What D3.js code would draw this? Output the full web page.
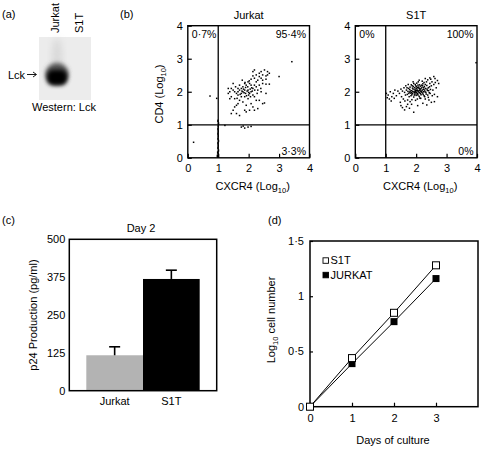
<!DOCTYPE html>
<html><head><meta charset="utf-8">
<script src="https://cdn.jsdelivr.net/npm/d3@7"></script>
<style>
body{margin:0;background:#fff}
text{font-family:"Liberation Sans",Arial,Helvetica,sans-serif;fill:#000}
</style>
</head><body>
<svg id="chart" width="483" height="452"></svg>
<script>
// ---------------- DATA ----------------
// (a) Western blot
const lanes = ["Jurkat", "S1T"];
const lckSignal = [1, 0];

// (b) flow cytometry, values in log10 units [CXCR4, CD4]
const flowTicks = [0, 1, 2, 3, 4];
const jurkatQuadrants = ["0·7%", "95·4%", "3·3%"];
const s1tQuadrants = ["0%", "100%", "0%"];
const jurkatEvents = [
 [2.52,2.66],[2.68,2.56],[2.62,2.51],[2.57,2.48],[2.46,2.51],[2.35,2.46],[2.41,2.41],[2.25,2.51],[2.14,2.48],[2.19,2.41],
 [2.30,2.35],[2.08,2.38],[1.98,2.30],[2.03,2.25],[1.92,2.20],[1.87,2.25],[1.81,2.15],[1.76,2.10],[1.70,2.05],[1.65,2.00],
 [1.60,1.95],[1.54,2.00],[1.49,2.05],[1.38,2.00],[1.33,1.95],[1.43,1.85],[1.54,1.79],[1.65,1.90],[1.76,1.95],[1.81,2.00],
 [1.87,2.05],[1.98,2.05],[2.08,2.00],[2.14,2.10],[2.25,2.15],[2.35,2.20],[2.46,2.25],[2.57,2.23],[2.68,2.23],[3.00,2.46],
 [1.76,1.85],[1.87,1.85],[1.98,1.79],[2.03,1.95],[2.14,1.90],[2.19,1.85],[2.25,1.74],[2.35,1.74],[2.46,1.64],[2.52,1.66],
 [2.08,1.64],[2.14,1.54],[2.03,1.44],[1.92,1.39],[1.87,1.44],[1.65,1.64],[1.60,1.59],[1.54,1.54],[1.49,1.44],[1.43,1.34],
 [1.60,1.34],[1.70,1.28],[1.38,1.79],[1.70,1.74],[1.81,1.69],[1.92,1.59],[2.19,1.44],[2.30,1.49],[2.57,1.95],[2.41,2.00],
 [2.30,2.05],[2.19,2.20],[2.08,2.20],[1.90,2.13],[1.79,2.35],[1.70,2.20],[2.35,2.56],[2.41,2.61],[2.62,2.61],[2.14,2.61],
 [2.19,2.66],[2.25,2.30],[2.46,2.35],[2.57,2.38],[1.65,2.10],[1.57,2.15],[1.49,2.25],[1.43,2.10],[1.33,2.10],
 [1.95,2.02],[2.00,1.98],[1.90,1.95],[2.05,2.08],[1.85,1.97],[2.10,2.12],[1.97,2.15],[1.83,2.08],[2.00,1.90],[2.12,2.02],
 [1.78,2.02],[1.93,1.88],[2.06,1.85],[2.20,2.05],[1.88,2.28],[2.02,2.33],[1.72,1.92],[1.62,1.80],[2.28,1.95],[2.40,2.10],
 [1.82,0.96],[1.76,0.93],[1.87,0.90],[1.98,0.93],[2.08,0.95],[1.22,0.98],
 [3.42,2.91],[0.73,1.87],[0.19,0.47],[0.95,1.80]
];
const jurkatAxisEvents = [
 [0.99,0.03],[1.00,0.10],[0.98,0.16],[1.01,0.22],[0.99,0.30],[1.00,0.37],[0.99,0.44],[1.01,0.51],[0.99,0.58],[1.00,0.66],
 [0.99,0.73],[1.00,0.80],[0.99,0.87],[1.00,0.95],[1.01,1.04],[0.99,1.12],[0.97,0.06],[0.98,0.02]
];
const s1tEvents = [
 [1.62,1.98],[1.68,2.05],[1.71,1.92],[1.75,2.10],[1.78,1.99],[1.80,2.14],[1.83,1.88],[1.85,2.03],[1.87,2.18],[1.88,1.95],
 [1.90,2.08],[1.92,1.84],[1.93,2.00],[1.95,2.12],[1.96,1.93],[1.97,2.22],[1.98,2.04],[2.00,1.89],[2.01,2.15],[2.02,1.98],
 [2.03,2.08],[2.05,1.94],[2.06,2.20],[2.07,2.02],[2.09,2.11],[2.10,1.86],[2.11,1.97],[2.13,2.06],[2.14,2.17],[2.16,1.91],
 [2.17,2.01],[2.19,2.13],[2.21,1.96],[2.22,2.24],[2.24,2.07],[2.26,1.88],[2.27,2.16],[2.29,2.00],[2.31,2.10],[2.33,1.93],
 [2.35,2.19],[2.37,2.04],[2.40,2.12],[2.43,1.97],[2.45,2.25],
 [1.65,1.90],[1.70,2.12],[1.73,2.01],[1.77,1.85],[1.79,2.07],[1.82,1.96],[1.84,2.21],[1.86,1.91],[1.89,2.01],[1.91,2.16],
 [1.94,1.97],[1.96,2.06],[1.99,1.97],[2.00,2.10],[2.02,2.26],[2.04,2.03],[2.06,1.90],[2.08,2.14],[2.09,1.99],[2.12,2.09],
 [2.12,1.81],[2.15,2.02],[2.18,2.20],[2.20,2.05],[2.23,1.92],[2.25,2.12],[2.28,2.05],[2.30,2.22],[2.32,1.98],[2.36,2.08],
 [2.38,1.90],[2.41,2.03],[2.44,2.15],[2.47,2.07],[2.50,2.18],
 [1.88,2.11],[1.92,2.25],[1.94,1.90],[1.97,2.01],[2.01,2.03],[2.03,1.93],[2.05,2.13],[2.07,2.30],[2.10,2.04],[2.14,1.95],
 [2.16,2.10],[2.18,1.99],[2.21,2.18],[2.24,2.00],[1.81,2.02],[1.76,1.95],[1.85,1.97],[1.99,2.18],[2.11,2.21],[2.26,2.28],
 [1.45,1.95],[1.50,2.08],[1.52,1.85],[1.55,2.02],[1.58,1.78],[1.60,2.12],[1.63,1.72],[1.66,2.18],[1.72,1.75],[1.74,2.22],
 [1.80,1.70],[1.86,1.76],[1.90,2.30],[1.98,1.74],[2.04,1.78],[2.10,2.35],[2.15,1.80],[2.20,2.32],[2.28,1.85],[2.34,2.30],
 [2.40,1.83],[2.46,1.95],[2.52,2.30],[2.55,2.05],[2.58,2.22],[2.60,1.92],[2.63,2.28],[2.48,2.38],[2.38,2.36],[2.30,1.78],
 [2.42,1.75],[2.53,1.88],
 [1.02,1.95],[1.05,1.82],[1.08,1.90],[1.12,1.78],[1.15,2.00],[1.20,1.85],[1.25,1.95],[1.30,2.05],[1.35,1.88],[1.40,2.02],
 [1.18,1.72],[1.28,1.80],
 [1.50,1.58],[1.55,1.52],[1.62,1.45],[1.68,1.55],[1.72,1.62],[1.78,1.50],[1.85,1.62],[1.92,1.38],[2.05,1.58],[2.22,1.65],
 [2.35,1.60],[2.50,1.68],[1.48,1.68],
 [2.62,2.40],[2.70,2.34],[2.74,2.25],[2.66,2.12],[2.58,2.46],[2.45,2.42],[2.30,2.40],[2.70,1.85],[2.60,1.70],
 [3.97,2.88]
];

// (c) p24 production, day 2
const p24Groups = ["Jurkat", "S1T"];
const p24Values = [117, 369];
const p24Errors = [28, 29];
const p24Ticks = [0, 125, 250, 375, 500];

// (d) growth
const days = [0, 1, 2, 3];
const dayTicks = [0, 1, 2, 3];
const growthS1T = [0, 0.44, 0.85, 1.28];
const growthJurkat = [0, 0.39, 0.77, 1.16];
const growthTicks = [0, 0.5, 1, 1.5];

// ---------------- DRAWING ----------------
const svg = d3.select("#chart");
const FS = 11;
const dotFmt = d => String(d).replace(".", "·");

function styleAxis(g) {
  g.select(".domain").remove();
  g.selectAll("line").attr("stroke", "#000").attr("stroke-width", 1.2);
  g.selectAll("text").attr("font-size", FS).attr("font-family", '"Liberation Sans",Arial,sans-serif').attr("fill", "#000");
}
function frame(g, x0, y0, x1, y1, sw) {
  g.append("rect").attr("x", x0).attr("y", y0).attr("width", x1 - x0).attr("height", y1 - y0)
    .attr("fill", "none").attr("stroke", "#000").attr("stroke-width", sw || 1.5);
}
function panelLabel(t, x, y) {
  svg.append("text").attr("x", x).attr("y", y).attr("font-size", FS).text(t);
}

// ---- (a) ----
panelLabel("(a)", 2, 18);
const defs = svg.append("defs");
defs.append("filter").attr("id", "blur2").attr("x", "-50%").attr("y", "-50%").attr("width", "200%").attr("height", "200%")
  .append("feGaussianBlur").attr("stdDeviation", 2);
defs.append("filter").attr("id", "blur4").attr("x", "-50%").attr("y", "-50%").attr("width", "200%").attr("height", "200%")
  .append("feGaussianBlur").attr("stdDeviation", 3.5);
const laneX = d3.scaleBand().domain(lanes).range([45, 93]);
const gel = svg.append("g");
gel.append("rect").attr("x", 39).attr("y", 37).attr("width", 52).attr("height", 63).attr("fill", "#ececec");
gel.selectAll("ellipse.smear").data(lanes).join("ellipse")
  .attr("cx", d => laneX(d) + laneX.bandwidth() / 2)
  .attr("cy", 56).attr("rx", 5).attr("ry", 18)
  .attr("fill", "#aaa").attr("opacity", (d, i) => 0.3 * lckSignal[i]).attr("filter", "url(#blur4)");
gel.selectAll("ellipse.halo").data(lanes).join("ellipse")
  .attr("cx", d => laneX(d) + laneX.bandwidth() / 2)
  .attr("cy", 74).attr("rx", 11.5).attr("ry", 11)
  .attr("fill", "#555").attr("opacity", (d, i) => lckSignal[i]).attr("filter", "url(#blur2)");
gel.selectAll("rect.core").data(lanes).join("rect")
  .attr("x", d => laneX(d) + laneX.bandwidth() / 2 - 10).attr("width", 20)
  .attr("y", 70).attr("height", 15).attr("rx", 6)
  .attr("fill", "#000").attr("opacity", (d, i) => lckSignal[i]).attr("filter", "url(#blur2)");
svg.selectAll("text.lane").data(lanes).join("text")
  .attr("transform", d => `translate(${laneX(d) + laneX.bandwidth() / 2 + 2},33) rotate(-90)`)
  .attr("font-size", FS).text(d => d);
svg.append("text").attr("x", 8).attr("y", 78.5).attr("font-size", FS).text("Lck");
svg.append("line").attr("x1", 27).attr("x2", 36).attr("y1", 74.5).attr("y2", 74.5).attr("stroke", "#000").attr("stroke-width", 0.9);
svg.append("path").attr("d", "M33,72 L36.5,74.5 L33,77").attr("fill", "none").attr("stroke", "#000").attr("stroke-width", 0.9);
svg.append("text").attr("x", 64).attr("y", 111).attr("text-anchor", "middle").attr("font-size", FS).text("Western: Lck");

// ---- (b) ----
panelLabel("(b)", 120, 18);
function flowPlot(cfg) {
  const x = d3.scaleLinear().domain([0, 4]).range(cfg.xr);
  const y = d3.scaleLinear().domain([0, 4]).range([157.8, 25.7]);
  const g = svg.append("g");
  const [x0, x1] = cfg.xr, y0 = y(4), y1 = y(0);
  const cid = "clip" + cfg.id;
  defs.append("clipPath").attr("id", cid).append("rect").attr("x", x0).attr("y", y0).attr("width", x1 - x0).attr("height", y1 - y0);
  const pts = g.append("g").attr("clip-path", `url(#${cid})`);
  pts.selectAll("rect.a").data(cfg.axisEvents || []).join("rect")
    .attr("x", d => x(d[0]) - 0.7).attr("y", d => y(d[1]) - 1.2).attr("width", 1.4).attr("height", 2.4).attr("fill", "#000");
  pts.selectAll("rect.e").data(cfg.events).join("rect")
    .attr("x", d => x(d[0]) - 0.75).attr("y", d => y(d[1]) - 0.75).attr("width", 1.5).attr("height", 1.5).attr("fill", "#000");
  // gates
  g.append("line").attr("x1", x(1)).attr("x2", x(1)).attr("y1", y0).attr("y2", y1).attr("stroke", "#000").attr("stroke-width", 1.3);
  g.append("line").attr("x1", x0).attr("x2", x1).attr("y1", y(1)).attr("y2", y(1)).attr("stroke", "#000").attr("stroke-width", 1.3);
  frame(g, x0, y0, x1, y1, 1.4);
  g.append("g").attr("transform", `translate(0,${y1})`)
    .call(d3.axisBottom(x).tickValues(flowTicks).tickSizeInner(-4).tickSizeOuter(0).tickPadding(6).tickFormat(d3.format("d")))
    .call(styleAxis);
  g.append("g").attr("transform", `translate(${x0},0)`)
    .call(d3.axisLeft(y).tickValues(flowTicks).tickSizeInner(-4).tickSizeOuter(0).tickPadding(5).tickFormat(d3.format("d")))
    .call(styleAxis);
  g.append("text").attr("x", (x0 + x1) / 2).attr("y", 19).attr("text-anchor", "middle").attr("font-size", FS).text(cfg.title);
  const q = cfg.quads;
  g.append("text").attr("x", x0 + 4).attr("y", 37.5).attr("font-size", FS - 0.5).text(q[0]);
  g.append("text").attr("x", x1 - 3.5).attr("y", 37.5).attr("text-anchor", "end").attr("font-size", FS - 0.5).text(q[1]);
  g.append("text").attr("x", x1 - 3.5).attr("y", 154.5).attr("text-anchor", "end").attr("font-size", FS - 0.5).text(q[2]);
  const xl = g.append("text").attr("x", (x0 + x1) / 2 + 4).attr("y", 190).attr("text-anchor", "middle").attr("font-size", FS);
  xl.append("tspan").text("CXCR4 (Log");
  xl.append("tspan").attr("dy", 3).attr("font-size", 7.5).text("10");
  xl.append("tspan").attr("dy", -3).text(")");
  if (cfg.yLabel) {
    const yl = g.append("text").attr("transform", `translate(${x0 - 25},94) rotate(-90)`).attr("text-anchor", "middle").attr("font-size", FS);
    yl.append("tspan").text("CD4 (Log");
    yl.append("tspan").attr("dy", 3).attr("font-size", 7.5).text("10");
    yl.append("tspan").attr("dy", -3).text(")");
  }
}
flowPlot({id: "j", xr: [187.8, 309.5], title: "Jurkat", events: jurkatEvents, axisEvents: jurkatAxisEvents, quads: jurkatQuadrants, yLabel: true});
flowPlot({id: "s", xr: [355.3, 477], title: "S1T", events: s1tEvents, quads: s1tQuadrants, yLabel: false});

// ---- (c) ----
panelLabel("(c)", 2, 224);
{
  const X0 = 69.3, X1 = 216.7, Y0 = 239.3, Y1 = 390.7;
  const x = d3.scaleBand().domain(p24Groups).range([X0, X1]).paddingInner(0).paddingOuter(0.3);
  const y = d3.scaleLinear().domain([0, 500]).range([Y1, Y0]);
  const g = svg.append("g");
  const colors = ["#b3b3b3", "#000"];
  g.selectAll("rect.bar").data(p24Groups).join("rect")
    .attr("x", d => x(d)).attr("width", x.bandwidth())
    .attr("y", (d, i) => y(p24Values[i])).attr("height", (d, i) => Y1 - y(p24Values[i]))
    .attr("fill", (d, i) => colors[i]);
  g.selectAll("line.err").data(p24Groups).join("line")
    .attr("x1", d => x(d) + x.bandwidth() / 2).attr("x2", d => x(d) + x.bandwidth() / 2)
    .attr("y1", (d, i) => y(p24Values[i])).attr("y2", (d, i) => y(p24Values[i] + p24Errors[i]))
    .attr("stroke", "#000").attr("stroke-width", 1.6);
  g.selectAll("line.cap").data(p24Groups).join("line")
    .attr("x1", d => x(d) + x.bandwidth() / 2 - 5.5).attr("x2", d => x(d) + x.bandwidth() / 2 + 5.5)
    .attr("y1", (d, i) => y(p24Values[i] + p24Errors[i])).attr("y2", (d, i) => y(p24Values[i] + p24Errors[i]))
    .attr("stroke", "#000").attr("stroke-width", 1.6);
  frame(g, X0, Y0, X1, Y1, 1.5);
  g.append("g").attr("transform", `translate(${X0},0)`)
    .call(d3.axisLeft(y).tickValues(p24Ticks).tickSize(0).tickPadding(4))
    .call(styleAxis);
  g.append("g").attr("transform", `translate(0,${Y1})`)
    .call(d3.axisBottom(x).tickSize(0).tickPadding(7))
    .call(styleAxis);
  g.append("text").attr("x", 141).attr("y", 231.5).attr("text-anchor", "middle").attr("font-size", FS).text("Day 2");
  g.append("text").attr("transform", `translate(36.5,315) rotate(-90)`).attr("text-anchor", "middle").attr("font-size", FS)
    .text("p24 Production (pg/ml)");
}

// ---- (d) ----
panelLabel("(d)", 268, 224);
{
  const X0 = 310, X1 = 478, Y0 = 241, Y1 = 406.7;
  const x = d3.scaleLinear().domain([0, 4]).range([X0, X1]);
  const y = d3.scaleLinear().domain([0, 1.5]).range([Y1, Y0]);
  const g = svg.append("g");
  frame(g, X0, Y0, X1, Y1, 1.5);
  g.append("g").attr("transform", `translate(0,${Y1})`)
    .call(d3.axisBottom(x).tickValues(dayTicks).tickSizeInner(-4).tickSizeOuter(0).tickPadding(8).tickFormat(d3.format("d")))
    .call(styleAxis);
  g.append("g").attr("transform", `translate(${X0},0)`)
    .call(d3.axisLeft(y).tickValues(growthTicks).tickSizeInner(-3).tickSizeOuter(0).tickPadding(6).tickFormat(dotFmt))
    .call(styleAxis);
  const line = d3.line().x((d, i) => x(days[i])).y(d => y(d));
  g.append("path").datum(growthJurkat).attr("d", line).attr("fill", "none").attr("stroke", "#000").attr("stroke-width", 1);
  g.append("path").datum(growthS1T).attr("d", line).attr("fill", "none").attr("stroke", "#000").attr("stroke-width", 1);
  const S = 7;
  g.selectAll("rect.j").data(growthJurkat).join("rect")
    .attr("x", (d, i) => x(days[i]) - S / 2).attr("y", d => y(d) - S / 2).attr("width", S).attr("height", S)
    .attr("fill", "#000");
  g.selectAll("rect.s").data(growthS1T).join("rect")
    .attr("x", (d, i) => x(days[i]) - S / 2).attr("y", d => y(d) - S / 2).attr("width", S).attr("height", S)
    .attr("fill", "#fff").attr("stroke", "#000").attr("stroke-width", 1);
  // legend
  const leg = [["S1T", "#fff"], ["JURKAT", "#000"]];
  leg.forEach((l, i) => {
    g.append("rect").attr("x", 323).attr("y", 257.8 + i * 14.5).attr("width", 5.5).attr("height", 5.5)
      .attr("fill", l[1]).attr("stroke", "#000").attr("stroke-width", 0.9);
    g.append("text").attr("x", 330.5).attr("y", 264.3 + i * 14.5).attr("font-size", FS).text(l[0]);
  });
  g.append("text").attr("x", (X0 + X1) / 2 - 1).attr("y", 444).attr("text-anchor", "middle").attr("font-size", FS).text("Days of culture");
  const yl = g.append("text").attr("transform", `translate(275,320) rotate(-90)`).attr("text-anchor", "middle").attr("font-size", FS);
  yl.append("tspan").text("Log");
  yl.append("tspan").attr("dy", 3).attr("font-size", 7.5).text("10");
  yl.append("tspan").attr("dy", -3).text(" cell number");
}
</script>
</body></html>
